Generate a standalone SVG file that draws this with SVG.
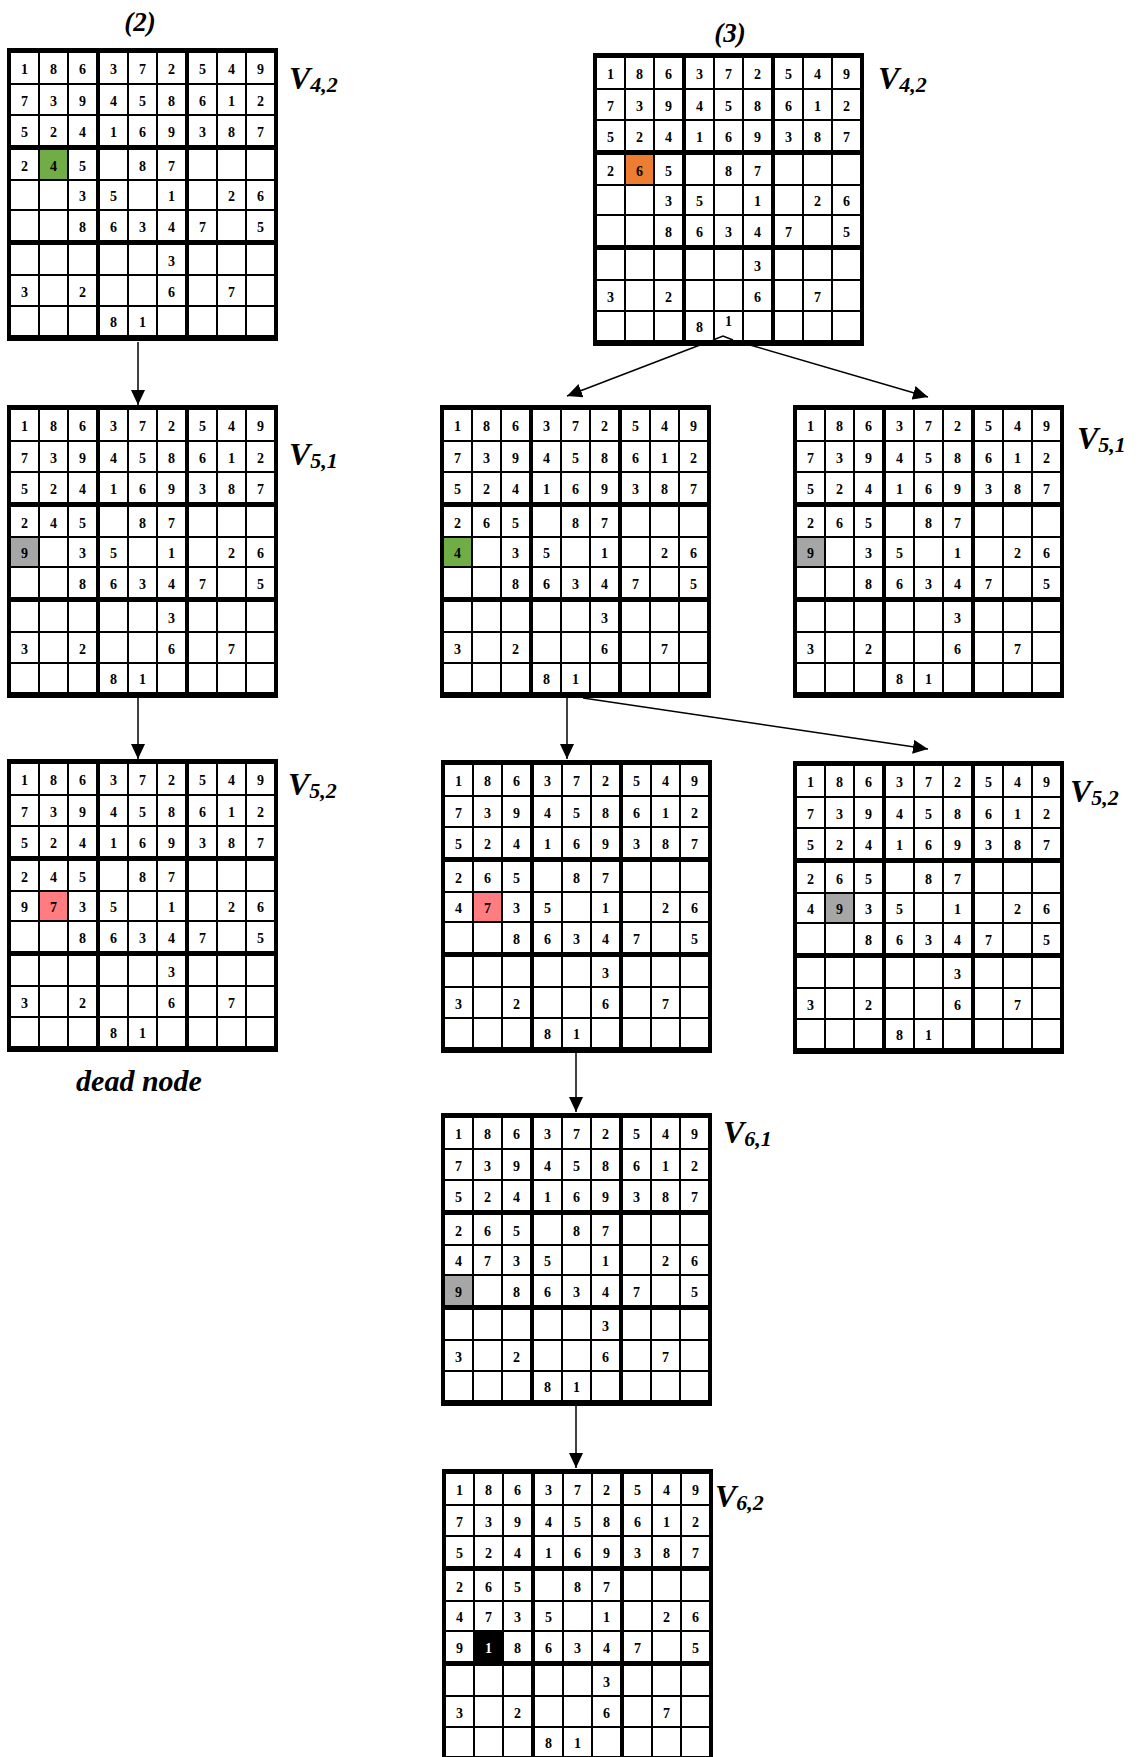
<svg xmlns="http://www.w3.org/2000/svg" xmlns:xlink="http://www.w3.org/1999/xlink" width="1138" height="1757" viewBox="0 0 1138 1757">
<style>
.d{font-family:"Liberation Serif","Times New Roman",serif;font-weight:bold;font-size:14px;text-anchor:middle;fill:#000}
.w{fill:#fff}
.lab{font-family:"Liberation Serif","Times New Roman",serif;font-style:italic;font-weight:bold;font-size:32px;fill:#000}
.sub{font-size:22px}
.cap{font-family:"Liberation Serif","Times New Roman",serif;font-style:italic;font-weight:bold;font-size:27px;text-anchor:middle;fill:#000}
.thin{stroke:#000;stroke-width:2}
.conn{stroke:#000;stroke-width:1.5;fill:none}
.green{fill:#70AD47}.orange{fill:#ED7D31}.gray{fill:#A6A6A6}.pink{fill:#FF7C80}.black{fill:#000}
</style>
<defs>
<marker id="arr" markerUnits="userSpaceOnUse" markerWidth="16" markerHeight="14" refX="15" refY="7" orient="auto">
<path d="M0,0 L15,7 L0,14 z" fill="#000"/>
</marker>
<g id="grid">
<rect width="271" height="293" fill="#000"/>
<rect x="4" y="5" width="85" height="92" fill="#fff"/>
<rect x="93" y="5" width="85" height="92" fill="#fff"/>
<rect x="182" y="5" width="85" height="92" fill="#fff"/>
<rect x="4" y="102" width="85" height="90" fill="#fff"/>
<rect x="93" y="102" width="85" height="90" fill="#fff"/>
<rect x="182" y="102" width="85" height="90" fill="#fff"/>
<rect x="4" y="197" width="85" height="90" fill="#fff"/>
<rect x="93" y="197" width="85" height="90" fill="#fff"/>
<rect x="182" y="197" width="85" height="90" fill="#fff"/>
<path class="thin" d="M32,0V293M61,0V293M121,0V293M150,0V293M210,0V293M239,0V293M0,36H271M0,67H271M0,132H271M0,162H271M0,227H271M0,258H271"/>
</g>
<g id="nums">
<text class="d" x="17.5" y="26">1</text><text class="d" x="46.5" y="26">8</text><text class="d" x="75.5" y="26">6</text><text class="d" x="106.5" y="26">3</text><text class="d" x="135.5" y="26">7</text><text class="d" x="164.5" y="26">2</text><text class="d" x="195.5" y="26">5</text><text class="d" x="224.5" y="26">4</text><text class="d" x="253.5" y="26">9</text>
<text class="d" x="17.5" y="57.5">7</text><text class="d" x="46.5" y="57.5">3</text><text class="d" x="75.5" y="57.5">9</text><text class="d" x="106.5" y="57.5">4</text><text class="d" x="135.5" y="57.5">5</text><text class="d" x="164.5" y="57.5">8</text><text class="d" x="195.5" y="57.5">6</text><text class="d" x="224.5" y="57.5">1</text><text class="d" x="253.5" y="57.5">2</text>
<text class="d" x="17.5" y="88.5">5</text><text class="d" x="46.5" y="88.5">2</text><text class="d" x="75.5" y="88.5">4</text><text class="d" x="106.5" y="88.5">1</text><text class="d" x="135.5" y="88.5">6</text><text class="d" x="164.5" y="88.5">9</text><text class="d" x="195.5" y="88.5">3</text><text class="d" x="224.5" y="88.5">8</text><text class="d" x="253.5" y="88.5">7</text>
<text class="d" x="17.5" y="122.5">2</text><text class="d" x="75.5" y="122.5">5</text><text class="d" x="135.5" y="122.5">8</text><text class="d" x="164.5" y="122.5">7</text>
<text class="d" x="75.5" y="153">3</text><text class="d" x="106.5" y="153">5</text><text class="d" x="164.5" y="153">1</text><text class="d" x="224.5" y="153">2</text><text class="d" x="253.5" y="153">6</text>
<text class="d" x="75.5" y="183.5">8</text><text class="d" x="106.5" y="183.5">6</text><text class="d" x="135.5" y="183.5">3</text><text class="d" x="164.5" y="183.5">4</text><text class="d" x="195.5" y="183.5">7</text><text class="d" x="253.5" y="183.5">5</text>
<text class="d" x="164.5" y="217.5">3</text>
<text class="d" x="17.5" y="248.5">3</text><text class="d" x="75.5" y="248.5">2</text><text class="d" x="164.5" y="248.5">6</text><text class="d" x="224.5" y="248.5">7</text>
<text class="d" x="106.5" y="279">8</text>
</g>
</defs>
<rect width="1138" height="1757" fill="#fff"/>

<text class="cap" x="140" y="31">(2)</text>
<text class="cap" x="730" y="42">(3)</text>

<g id="node-2-v42" transform="translate(7,48)">
<use href="#grid" xlink:href="#grid"/>
<rect class="green" x="33" y="102" width="27" height="29"/>
<use href="#nums" xlink:href="#nums"/>
<text class="d" x="46.5" y="122.5">4</text>
<text class="d" x="135.5" y="279">1</text>
</g>
<text class="lab" x="289" y="89">V<tspan class="sub" dy="3">4,2</tspan></text>

<g id="node-3-v42" transform="translate(593,53)">
<use href="#grid" xlink:href="#grid"/>
<rect class="orange" x="33" y="102" width="27" height="29"/>
<use href="#nums" xlink:href="#nums"/>
<text class="d" x="46.5" y="122.5">6</text>
<text class="d" x="135.5" y="273">1</text>
<polyline class="conn" points="120,287 130,283 140,287"/>
</g>
<text class="lab" x="878" y="89">V<tspan class="sub" dy="3">4,2</tspan></text>

<g id="node-left-v51" transform="translate(7,405)">
<use href="#grid" xlink:href="#grid"/>
<rect class="gray" x="4" y="133" width="27" height="28"/>
<use href="#nums" xlink:href="#nums"/>
<text class="d" x="46.5" y="122.5">4</text>
<text class="d" x="17.5" y="153">9</text>
<text class="d" x="135.5" y="279">1</text>
</g>
<text class="lab" x="289" y="465">V<tspan class="sub" dy="3">5,1</tspan></text>

<g id="node-left-v52" transform="translate(7,759)">
<use href="#grid" xlink:href="#grid"/>
<rect class="pink" x="33" y="133" width="27" height="28"/>
<use href="#nums" xlink:href="#nums"/>
<text class="d" x="46.5" y="122.5">4</text>
<text class="d" x="17.5" y="153">9</text>
<text class="d" x="46.5" y="153">7</text>
<text class="d" x="135.5" y="279">1</text>
</g>
<text class="lab" x="288" y="795">V<tspan class="sub" dy="3">5,2</tspan></text>
<text class="cap" x="139" y="1091" style="font-size:30px">dead node</text>

<g id="node-mid-v5a" transform="translate(440,405)">
<use href="#grid" xlink:href="#grid"/>
<rect class="green" x="4" y="133" width="27" height="28"/>
<use href="#nums" xlink:href="#nums"/>
<text class="d" x="46.5" y="122.5">6</text>
<text class="d" x="17.5" y="153">4</text>
<text class="d" x="135.5" y="279">1</text>
</g>

<g id="node-right-v51" transform="translate(793,405)">
<use href="#grid" xlink:href="#grid"/>
<rect class="gray" x="4" y="133" width="27" height="28"/>
<use href="#nums" xlink:href="#nums"/>
<text class="d" x="46.5" y="122.5">6</text>
<text class="d" x="17.5" y="153">9</text>
<text class="d" x="135.5" y="279">1</text>
</g>
<text class="lab" x="1077" y="449">V<tspan class="sub" dy="3">5,1</tspan></text>

<g id="node-mid-v5b" transform="translate(441,760)">
<use href="#grid" xlink:href="#grid"/>
<rect class="pink" x="33" y="133" width="27" height="28"/>
<use href="#nums" xlink:href="#nums"/>
<text class="d" x="46.5" y="122.5">6</text>
<text class="d" x="17.5" y="153">4</text>
<text class="d" x="46.5" y="153">7</text>
<text class="d" x="135.5" y="279">1</text>
</g>

<g id="node-right-v52" transform="translate(793,761)">
<use href="#grid" xlink:href="#grid"/>
<rect class="gray" x="33" y="133" width="27" height="28"/>
<use href="#nums" xlink:href="#nums"/>
<text class="d" x="46.5" y="122.5">6</text>
<text class="d" x="17.5" y="153">4</text>
<text class="d" x="46.5" y="153">9</text>
<text class="d" x="135.5" y="279">1</text>
</g>
<text class="lab" x="1070" y="802">V<tspan class="sub" dy="3">5,2</tspan></text>

<g id="node-v61" transform="translate(441,1113)">
<use href="#grid" xlink:href="#grid"/>
<rect class="gray" x="4" y="163" width="27" height="29"/>
<use href="#nums" xlink:href="#nums"/>
<text class="d" x="46.5" y="122.5">6</text>
<text class="d" x="17.5" y="153">4</text>
<text class="d" x="46.5" y="153">7</text>
<text class="d" x="17.5" y="183.5">9</text>
<text class="d" x="135.5" y="279">1</text>
</g>
<text class="lab" x="723" y="1143">V<tspan class="sub" dy="3">6,1</tspan></text>

<g id="node-v62" transform="translate(442,1469)">
<use href="#grid" xlink:href="#grid"/>
<rect class="black" x="33" y="163" width="27" height="29"/>
<use href="#nums" xlink:href="#nums"/>
<text class="d" x="46.5" y="122.5">6</text>
<text class="d" x="17.5" y="153">4</text>
<text class="d" x="46.5" y="153">7</text>
<text class="d" x="17.5" y="183.5">9</text>
<text class="d w" x="46.5" y="183.5">1</text>
<text class="d" x="135.5" y="279">1</text>
</g>
<text class="lab" x="715" y="1507">V<tspan class="sub" dy="3">6,2</tspan></text>

<g id="connectors">
<line class="conn" x1="138" y1="342" x2="138" y2="405" marker-end="url(#arr)"/>
<line class="conn" x1="138" y1="698" x2="138" y2="759" marker-end="url(#arr)"/>
<line class="conn" x1="700" y1="345" x2="567" y2="396" marker-end="url(#arr)"/>
<line class="conn" x1="750" y1="345" x2="928" y2="397" marker-end="url(#arr)"/>
<line class="conn" x1="567" y1="698" x2="567" y2="759" marker-end="url(#arr)"/>
<line class="conn" x1="583" y1="698" x2="928" y2="749" marker-end="url(#arr)"/>
<line class="conn" x1="576" y1="1053" x2="576" y2="1112" marker-end="url(#arr)"/>
<line class="conn" x1="576" y1="1406" x2="576" y2="1468" marker-end="url(#arr)"/>
</g>
</svg>
